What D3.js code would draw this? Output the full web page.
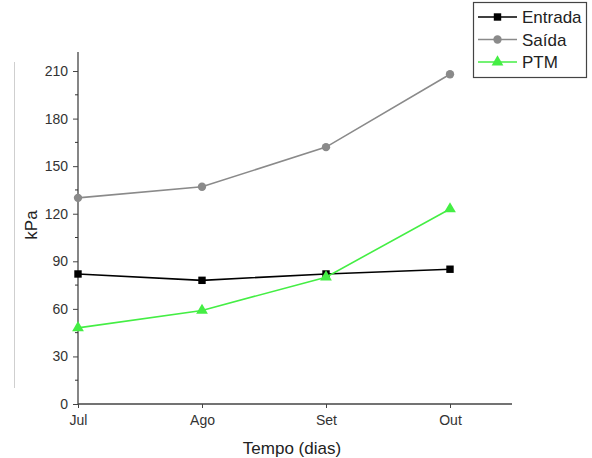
<!DOCTYPE html>
<html>
<head>
<meta charset="utf-8">
<script src="https://cdn.jsdelivr.net/npm/d3@7"></script>
<style>
  body { margin: 0; background: #fff; }
  text { font-family: "Liberation Sans", Arial, sans-serif; }
</style>
</head>
<body>
<div id="plot"></div>
<script>
// data
const months = ["Jul", "Ago", "Set", "Out"];
const entrada = [82, 78, 82, 85];
const saida = [130, 137, 162, 208];
const ptm = [48, 59, 80, 123];
const yTicks = [0, 30, 60, 90, 120, 150, 180, 210];

const width = 592,
  height = 458;
const svg = d3.select("#plot").append("svg").attr("width", width).attr("height", height);

// scales
const x = d3.scaleLinear().domain([0, 3.5]).range([78, 512]);
const y = d3.scaleLinear().domain([0, 222]).range([404, 52]);

// stray vertical line at left
svg.append("line").attr("x1", 14.5).attr("x2", 14.5).attr("y1", 62).attr("y2", 388)
  .attr("stroke", "#cfcfcf").attr("stroke-width", 1);

// y axis
const yAxis = svg.append("g").attr("transform", "translate(78,0)")
  .call(d3.axisLeft(y).tickValues(yTicks).tickSize(5).tickPadding(5));
// minor ticks
svg.append("g").selectAll("line").data(d3.range(15, 222, 30)).join("line")
  .attr("x1", 75).attr("x2", 78).attr("y1", d => y(d)).attr("y2", d => y(d))
  .attr("stroke", "#333");

// x axis
const xAxis = svg.append("g").attr("transform", "translate(0,404)")
  .call(d3.axisBottom(x).tickValues([0, 1, 2, 3]).tickFormat(i => months[i]).tickSize(4).tickPadding(7));

[yAxis, xAxis].forEach(g => {
  g.select(".domain").attr("stroke", "#444").attr("stroke-width", 1.3);
  g.selectAll(".tick line").attr("stroke", "#444");
  g.selectAll("text").style("font-size", "14px").attr("fill", "#333");
});
yAxis.select(".domain").attr("d", "M0,404V52");
xAxis.select(".domain").attr("d", "M78,0H512");

// axis titles
svg.append("text").attr("x", 292).attr("y", 454).attr("text-anchor", "middle")
  .style("font-size", "17px").attr("fill", "#222").text("Tempo (dias)");
svg.append("text").attr("transform", "translate(37,225) rotate(-90)").attr("text-anchor", "middle")
  .style("font-size", "17px").attr("fill", "#222").text("kPa");

const series = [
  { name: "Entrada", values: entrada, color: "#000", shape: d3.symbolSquare, size: 55 },
  { name: "Saída", values: saida, color: "#8a8a8a", shape: d3.symbolCircle, size: 55 },
  { name: "PTM", values: ptm, color: "#44ee44", shape: d3.symbolTriangle, size: 60 },
];

const line = d3.line().x((d, i) => x(i)).y(d => y(d));

series.forEach(s => {
  svg.append("path").datum(s.values).attr("d", line)
    .attr("fill", "none").attr("stroke", s.color).attr("stroke-width", 1.6);
  svg.append("g").selectAll("path").data(s.values).join("path")
    .attr("transform", (d, i) => `translate(${x(i)},${y(d)})`)
    .attr("d", d3.symbol().type(s.shape).size(s.size))
    .attr("fill", s.color);
});

// legend
const legend = svg.append("g");
legend.append("rect").attr("x", 473.5).attr("y", 2.5).attr("width", 113).attr("height", 75)
  .attr("fill", "#fff").attr("stroke", "#444").attr("stroke-width", 1.2);
series.forEach((s, i) => {
  const ly = 17 + i * 22.5;
  legend.append("line").attr("x1", 478).attr("x2", 517).attr("y1", ly).attr("y2", ly)
    .attr("stroke", s.color).attr("stroke-width", 1.6);
  legend.append("path").attr("transform", `translate(497.5,${ly})`)
    .attr("d", d3.symbol().type(s.shape).size(s.size)).attr("fill", s.color);
  legend.append("text").attr("x", 522).attr("y", ly + 6).style("font-size", "17px")
    .attr("fill", "#222").text(s.name);
});
</script>
</body>
</html>
